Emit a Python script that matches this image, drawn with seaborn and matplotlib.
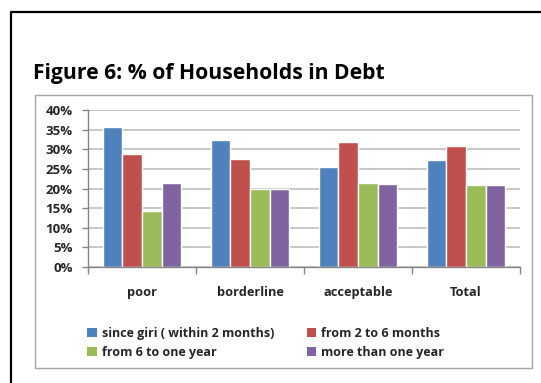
import matplotlib
matplotlib.use("Agg")
import matplotlib.pyplot as plt
from matplotlib.lines import Line2D
from matplotlib.patches import Rectangle, Patch
from matplotlib.ticker import PercentFormatter, FixedLocator
import pandas as pd
import seaborn as sns

# Share of households in debt, by food-consumption group and debt age
categories = ["poor", "borderline", "acceptable", "Total"]
series = ["since giri ( within 2 months)", "from 2 to 6 months",
          "from 6 to one year", "more than one year"]
since_giri = [0.357, 0.324, 0.256, 0.273]
two_to_six = [0.287, 0.276, 0.319, 0.308]
six_to_year = [0.142, 0.200, 0.214, 0.209]
over_year = [0.214, 0.200, 0.211, 0.209]
colors = ["#4F81BD", "#C0504D", "#9BBB59", "#8064A2"]
y_ticks = [0, 0.05, 0.10, 0.15, 0.20, 0.25, 0.30, 0.35, 0.40]

values = [since_giri, two_to_six, six_to_year, over_year]
df = pd.DataFrame(
    [(c, s, v[i]) for s, v in zip(series, values) for i, c in enumerate(categories)],
    columns=["category", "period", "share"],
)

sns.set_theme(style="white")
plt.rcParams["font.family"] = ["Open Sans", "DejaVu Sans"]

W, H = 541, 383
fig = plt.figure(figsize=(W / 100, H / 100), dpi=100)

def fx(px):
    return px / W

def fy(py):
    return 1 - py / H

ax = fig.add_axes([fx(88), fy(267), fx(520) - fx(88), fy(110) - fy(267)])
sns.barplot(data=df, x="category", y="share", hue="period", order=categories,
            hue_order=series, palette=colors, width=0.73, gap=0,
            saturation=1, ax=ax, legend=False, errorbar=None)

ax.set_xlim(-0.5, len(categories) - 0.5)
ax.set_ylim(0, 0.40)
ax.set_yticks(y_ticks)
ax.yaxis.set_major_formatter(PercentFormatter(1.0, decimals=0))
ax.grid(axis="y", color="#BFBFBF", linewidth=1.2)
ax.set_axisbelow(True)
ax.set_xlabel("")
ax.set_ylabel("")
for side in ["top", "right"]:
    ax.spines[side].set_visible(False)
for side in ["left", "bottom"]:
    ax.spines[side].set_color("#868686")
    ax.spines[side].set_linewidth(1.0)

ax.tick_params(axis="y", left=True, length=4, color="#868686", width=1,
               labelsize=9.5, pad=7)
for lab in ax.get_yticklabels():
    lab.set_fontweight("bold")
ax.tick_params(axis="x", which="major", bottom=False, labelsize=9.2, pad=7.5)
for lab in ax.get_xticklabels():
    lab.set_fontweight("bold")
ax.xaxis.set_minor_locator(FixedLocator([-0.5, 0.5, 1.5, 2.5, 3.5]))
ax.tick_params(axis="x", which="minor", bottom=True, length=5, color="#868686", width=1)

# Legend below the plot, two columns filled row by row
handles = [Patch(facecolor=c, edgecolor="none") for c in colors]
order = [0, 2, 1, 3]
leg = fig.legend([handles[i] for i in order], [series[i] for i in order],
                 ncol=2, loc="upper left",
                 bbox_to_anchor=(fx(81), fy(321)), frameon=False,
                 prop={"size": 9, "weight": "bold"},
                 handlelength=0.75, handleheight=0.75, handletextpad=0.4,
                 columnspacing=2.6, labelspacing=0.45, borderpad=0)

# Title and framing
fig.text(fx(33), fy(79), "Figure 6: % of Households in Debt", fontsize=15.2,
         fontweight="bold", va="baseline", ha="left", color="black")
fig.add_artist(Rectangle((fx(35), fy(368)), fx(532) - fx(35), fy(95) - fy(368),
                         transform=fig.transFigure, fill=False,
                         edgecolor="#A6A6A6", linewidth=1.0))
fig.add_artist(Line2D([fx(10.5), fx(10.5)], [fy(12), 0], transform=fig.transFigure,
                      color="black", linewidth=1.6))
fig.add_artist(Line2D([fx(10.5), 1], [fy(12), fy(12)], transform=fig.transFigure,
                      color="black", linewidth=1.6))

fig.savefig("out.png", dpi=100)
